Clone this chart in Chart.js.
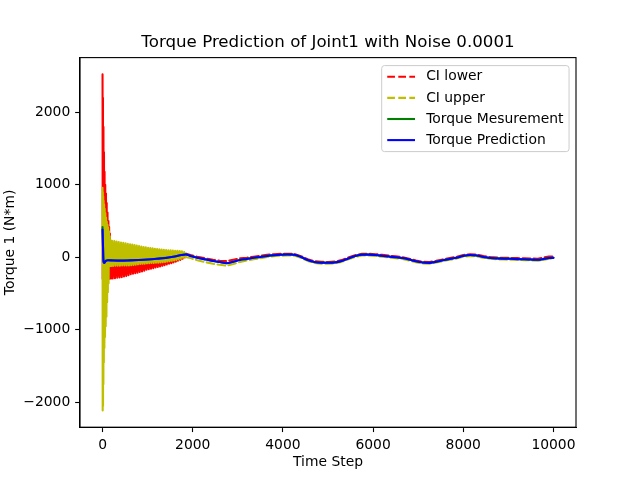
<!DOCTYPE html>
<html>
<head>
<meta charset="utf-8">
<title>Torque Prediction of Joint1</title>
<script src="https://cdn.jsdelivr.net/npm/chart.js@4/dist/chart.umd.min.js"></script>
<style>
html, body { margin: 0; padding: 0; background: #fff; }
canvas { display: block; }
</style>
</head>
<body>
<canvas id="chart" width="640" height="480"></canvas>
<script>
// Tick labels
const xTicks = [0, 2000, 4000, 6000, 8000, 10000];
const yTicks = [-2000, -1000, 0, 1000, 2000];

// Start of the run: prediction / measurement
const headX = [0, 8, 16, 25, 40, 60, 80, 120, 200, 400, 600, 800, 1000, 1200, 1400, 1600, 1750, 1850];
const headPred = [385, 200, 0, -70, -76, -60, -45, -40, -42, -45, -42, -37, -30, -20, -8, 12, 32, 40];
const headMeas = [420, 230, 20, -62, -72, -58, -44, -39, -41, -44, -41, -36, -29, -19, -7, 13, 33, 41];

const lowerHeadX = [0, 4, 9, 14, 20, 26, 32, 38, 45, 52, 60, 68, 76, 84, 92, 100, 110, 120, 130, 138,
  146, 154, 162, 170, 178, 190, 200, 225, 250, 275, 300, 325, 350, 375, 400, 425, 450, 475, 500, 525,
  550, 575, 600, 625, 650, 675, 700, 725, 750, 775, 800, 825, 850, 875, 900, 925, 950, 975, 1000, 1025,
  1050, 1075, 1100, 1125, 1150, 1175, 1200, 1225, 1250, 1275, 1300, 1325, 1350, 1375, 1400, 1425, 1450,
  1475, 1500, 1525, 1550, 1575, 1600, 1625, 1650, 1675, 1700, 1725, 1750, 1775, 1800, 1825, 1850];
const lowerHeadY = [2524, -300, 2200, -300, 1800, -300, 1450, -300, 1180, -300, 1000, -300, 880, -300, 750, -300, 620, -300, 500, -300,
  420, -292, 330, -292, 220, -291, 140, -291, 110, -287, 105, -280, 100, -276, 100, -272, 95, -265, 95, -255,
  90, -245, 90, -233, 85, -225, 85, -218, 80, -210, 80, -202, 75, -193, 75, -185, 70, -170, 60, -162,
  60, -155, 55, -148, 55, -140, 50, -133, 50, -124, 45, -116, 45, -107, 45, -98, 45,
  -88, 45, -80, 45, -70, 45, -60, 45, -46, 50, -35, 55, -20, 55, -2, 50];

const upperHeadX = [0, 3, 7, 11, 15, 19, 24, 29, 35, 41, 48, 55, 62, 70, 78, 86, 94, 102, 110, 118,
  126, 134, 142, 150, 160, 170, 180, 195, 210, 235, 260, 285, 310, 335, 360, 385, 410, 435, 460, 485,
  510, 535, 560, 585, 610, 635, 660, 685, 710, 735, 760, 785, 810, 835, 860, 885, 910, 935, 960, 985,
  1010, 1035, 1060, 1085, 1110, 1135, 1160, 1185, 1210, 1235, 1260, 1285, 1310, 1335, 1360, 1385, 1410,
  1435, 1460, 1485, 1510, 1535, 1560, 1585, 1610, 1635, 1660, 1685, 1710, 1735, 1760, 1785, 1810, 1835];
const upperHeadY = [960, -2111, 900, -2050, 840, -1750, 780, -1450, 730, -1250, 670, -1100, 610, -950, 550, -820, 490, -620, 450, -480,
  410, -360, 360, -120, 290, -118, 235, -117, 228, -117, 225, -116, 220, -115, 212, -114, 205, -113, 200, -112,
  195, -111, 188, -110, 182, -108, 176, -104, 170, -100, 162, -96, 156, -92, 150, -89, 144, -86, 138, -82,
  133, -80, 128, -78, 124, -76, 120, -74, 116, -72, 112, -69, 108, -66, 103, -62, 100,
  -58, 98, -52, 96, -47, 94, -42, 92, -36, 90, -28, 88, -18, 85, -6, 75, 5];

// Settled part of the run
const tailX = [1950, 2100, 2300, 2450, 2600, 2750, 2900, 3050, 3200, 3350, 3500, 3650, 3800, 3950, 4100,
  4250, 4400, 4550, 4700, 4850, 5000, 5150, 5300, 5450, 5600, 5750, 5900, 6050, 6200, 6350, 6500,
  6650, 6800, 6950, 7100, 7250, 7400, 7550, 7700, 7850, 8000, 8150, 8300, 8450, 8600, 8750, 8900,
  9050, 9200, 9350, 9500, 9650, 9800, 9900, 10000];
const tailPred = [20, -5, -30, -50, -65, -80, -60, -35, -22, -6, 6, 20, 30, 36, 39,
  36, 5, -37, -65, -74, -75, -70, -50, -15, 18, 37, 38, 32, 22, 11, 2,
  -10, -30, -55, -72, -76, -60, -40, -22, -5, 20, 32, 25, 5, -8, -15, -18,
  -20, -24, -26, -30, -34, -20, -8, -7];
const tailMeas = [21, -4, -29, -49, -64, -79, -59, -34, -21, -5, 7, 21, 31, 37, 40,
  37, 6, -36, -64, -73, -74, -69, -49, -14, 19, 38, 39, 33, 23, 12, 3,
  -9, -29, -54, -71, -75, -59, -39, -21, -4, 21, 33, 26, 6, -7, -14, -17,
  -19, -23, -25, -29, -33, -19, -7, -6];
const tailLower = [32, 8, -15, -34, -48, -52, -34, -14, -5, 9, 21, 34, 44, 49, 51,
  48, 17, -25, -53, -62, -63, -58, -38, -3, 30, 49, 50, 44, 34, 23, 14,
  2, -18, -43, -60, -64, -48, -28, -10, 7, 32, 44, 37, 17, 4, -3, -6,
  -8, -11, -13, -16, -18, 0, 10, 10];
const tailUpper = [-10, -40, -68, -88, -103, -115, -92, -62, -42, -26, -12, 6, 17, 23, 27,
  24, -7, -49, -77, -86, -87, -82, -62, -27, 6, 25, 26, 20, 10, -1, -10,
  -22, -42, -67, -84, -88, -72, -52, -34, -17, 8, 20, 13, -7, -20, -27, -30,
  -32, -36, -38, -42, -46, -32, -20, -19];

function pts(xs, ys) {
  return xs.map((x, i) => ({ x, y: ys[i] }));
}

const FONT = '"DejaVu Sans", "Liberation Sans", sans-serif';
const PX = 100 / 72; // matplotlib points -> pixels at 100 dpi
const TITLE = 'Torque Prediction of Joint1 with Noise 0.0001';

Chart.defaults.color = '#000';
Chart.defaults.font.family = FONT;

// Spines on all four sides, above the lines
const spines = {
  id: 'spines',
  afterDatasetsDraw(chart) {
    const { ctx, chartArea: a } = chart;
    ctx.save();
    ctx.strokeStyle = '#000';
    ctx.lineWidth = 0.8 * PX;
    ctx.strokeRect(a.left, a.top, a.right - a.left, a.bottom - a.top);
    ctx.restore();
  }
};

// Title centred over the axes, not the whole canvas
const axesTitle = {
  id: 'axesTitle',
  afterDraw(chart) {
    const { ctx, chartArea: a } = chart;
    ctx.save();
    ctx.font = (12 * PX) + 'px ' + FONT;
    ctx.fillStyle = '#000';
    ctx.textAlign = 'center';
    ctx.textBaseline = 'middle';
    ctx.fillText(TITLE, (a.left + a.right) / 2, a.top - 14.6);
    ctx.restore();
  }
};

// Legend box inside the axes, upper right
const insetLegend = {
  id: 'insetLegend',
  afterDraw(chart) {
    const { ctx, chartArea: a } = chart;
    const fs = 10 * PX;
    ctx.save();
    ctx.font = fs + 'px ' + FONT;
    const sets = chart.data.datasets;
    const textW = Math.max(...sets.map(d => ctx.measureText(d.label).width));
    const pad = 0.4 * fs, handle = 2 * fs, gap = 0.8 * fs, rowH = 21.1;
    const w = pad + handle + gap + textW + pad;
    const h = 86;
    const right = a.right - 0.5 * fs;
    const left = right - w;
    const top = a.top + 8;

    ctx.beginPath();
    if (ctx.roundRect) ctx.roundRect(left, top, w, h, 0.2 * fs);
    else ctx.rect(left, top, w, h);
    ctx.fillStyle = 'rgba(255,255,255,0.8)';
    ctx.fill();
    ctx.strokeStyle = '#cccccc';
    ctx.lineWidth = 1;
    ctx.stroke();

    sets.forEach((d, i) => {
      const cy = top + 11.2 + i * rowH;
      ctx.beginPath();
      ctx.setLineDash(d.borderDash || []);
      ctx.strokeStyle = d.borderColor;
      ctx.lineWidth = d.borderWidth;
      ctx.lineCap = 'butt';
      ctx.moveTo(left + pad, cy);
      ctx.lineTo(left + pad + handle, cy);
      ctx.stroke();
      ctx.setLineDash([]);
      ctx.fillStyle = '#000';
      ctx.textBaseline = 'middle';
      ctx.textAlign = 'left';
      ctx.fillText(d.label, left + pad + handle + gap, cy);
    });
    ctx.restore();
  }
};

const LW = 1.5 * PX;
const DASH = [3.7 * LW, 1.6 * LW];
// the noisy start is so dense that the dashes merge into a solid band
const NOISY_END = 1900;
const ciSegment = { borderDash: c => (c.p1.parsed.x <= NOISY_END ? [] : DASH) };

new Chart(document.getElementById('chart'), {
  type: 'line',
  data: {
    datasets: [
      {
        label: 'CI lower',
        data: pts(lowerHeadX.concat(tailX), lowerHeadY.concat(tailLower)),
        borderColor: '#ff0000',
        borderWidth: LW,
        borderDash: DASH,
        segment: ciSegment,
        cubicInterpolationMode: 'default',
        tension: 0,
        order: 4
      },
      {
        label: 'CI upper',
        data: pts(upperHeadX.concat(tailX), upperHeadY.concat(tailUpper)),
        borderColor: '#bfbf00',
        borderWidth: LW,
        borderDash: DASH,
        segment: ciSegment,
        cubicInterpolationMode: 'default',
        tension: 0,
        order: 3
      },
      {
        label: 'Torque Mesurement',
        data: pts(headX.concat(tailX), headMeas.concat(tailMeas)),
        borderColor: '#008000',
        borderWidth: LW,
        order: 2
      },
      {
        label: 'Torque Prediction',
        data: pts(headX.concat(tailX), headPred.concat(tailPred)),
        borderColor: '#0000ff',
        borderWidth: LW,
        order: 1
      }
    ]
  },
  options: {
    responsive: false,
    animation: false,
    devicePixelRatio: 1,
    layout: { padding: { left: 0, right: 64, top: 57.6, bottom: 0 } },
    elements: {
      point: { radius: 0, hoverRadius: 0 },
      line: {
        fill: false,
        cubicInterpolationMode: 'monotone',
        borderCapStyle: 'round',
        borderJoinStyle: 'round'
      }
    },
    plugins: {
      legend: { display: false },
      tooltip: { enabled: false },
      title: { display: false }
    },
    scales: {
      x: {
        type: 'linear',
        min: -500,
        max: 10500,
        afterBuildTicks: s => { s.ticks = xTicks.map(v => ({ value: v })); },
        afterFit: s => { s.height = 52.8; },
        ticks: {
          autoSkip: false,
          maxRotation: 0,
          padding: 3.5 * PX,
          font: { size: 10 * PX },
          callback: v => String(v)
        },
        grid: {
          drawOnChartArea: false,
          drawTicks: true,
          tickLength: 3.5 * PX,
          tickWidth: 0.8 * PX,
          tickColor: '#000'
        },
        border: { display: true, color: '#000', width: 0.8 * PX },
        title: {
          display: true,
          text: 'Time Step',
          font: { size: 10 * PX },
          padding: { top: 0, bottom: 9.7 }
        }
      },
      y: {
        type: 'linear',
        min: -2343,
        max: 2756,
        afterBuildTicks: s => { s.ticks = yTicks.map(v => ({ value: v })); },
        afterFit: s => { s.width = 80; },
        ticks: {
          autoSkip: false,
          padding: 3.5 * PX,
          font: { size: 10 * PX },
          callback: v => (v < 0 ? '\u2212' + Math.abs(v) : String(v))
        },
        grid: {
          drawOnChartArea: false,
          drawTicks: true,
          tickLength: 3.5 * PX,
          tickWidth: 0.8 * PX,
          tickColor: '#000'
        },
        border: { display: true, color: '#000', width: 0.8 * PX },
        title: {
          display: true,
          text: 'Torque 1 (N*m)',
          font: { size: 10 * PX },
          padding: { top: 2, bottom: 0 }
        }
      }
    }
  },
  plugins: [spines, axesTitle, insetLegend]
});
</script>
</body>
</html>
